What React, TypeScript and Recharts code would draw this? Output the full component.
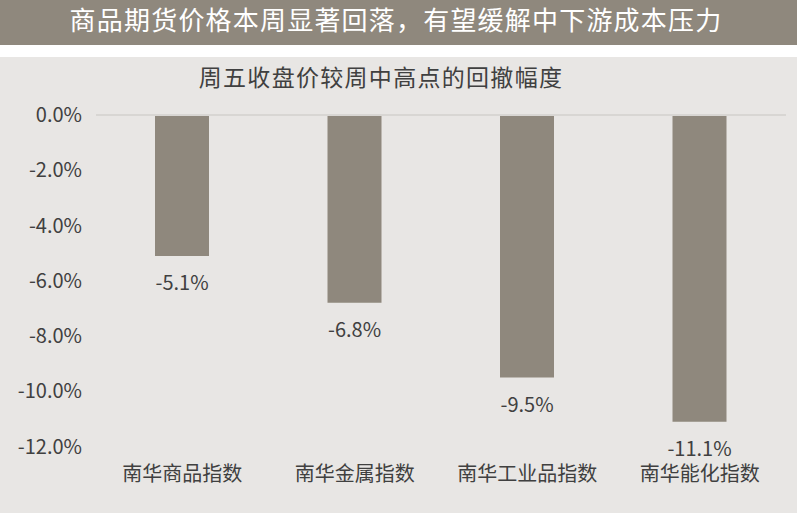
import React from "react";
import { BarChart, Bar, XAxis, YAxis, ReferenceLine, LabelList } from "recharts";

const categories = ["南华商品指数", "南华金属指数", "南华工业品指数", "南华能化指数"];
const drawdowns = [-5.1, -6.8, -9.5, -11.1];
const yTicks = [0, -2, -4, -6, -8, -10, -12];
const bannerTitle = "商品期货价格本周显著回落，有望缓解中下游成本压力";
const chartTitle = "周五收盘价较周中高点的回撤幅度";

const data = categories.map((name, i) => ({ name, value: drawdowns[i] }));

const FONT = '"Noto Sans CJK SC", "Noto Sans", sans-serif';
const TEXT = "#404040";
const TAUPE = "#8f887d";

const renderLabel = (props: any) => {
  const { x, y, width, height, value } = props;
  const bottom = Math.max(Number(y), Number(y) + Number(height));
  return (
    <text
      x={Number(x) + Number(width) / 2}
      y={bottom + 26}
      textAnchor="middle"
      dominantBaseline="central"
      fill={TEXT}
      fontSize={20}
      fontFamily={FONT}
    >
      {`${Number(value).toFixed(1)}%`}
    </text>
  );
};

export default function App() {
  return (
    <div style={{ position: "absolute", left: 0, top: 0, width: 797, height: 513, overflow: "hidden", background: "#ffffff" }}>
      <svg width={797} height={513} style={{ position: "absolute", left: 0, top: 0 }}>
        <rect x={0} y={0} width={797} height={45} fill={TAUPE} />
        <rect x={0} y={57} width={797} height={456} fill="#e8e6e4" />
        <text x={396} y={30} textAnchor="middle" fill="#ffffff" fontSize={26} letterSpacing={1.2} fontFamily={FONT}>
          {bannerTitle}
        </text>
        <text x={381} y={86} textAnchor="middle" fill={TEXT} fontSize={23} letterSpacing={1.3} fontFamily={FONT}>
          {chartTitle}
        </text>
      </svg>
      <div style={{ position: "absolute", left: 0, top: 0 }}>
        <BarChart
          width={797}
          height={513}
          data={data}
          margin={{ top: 115, right: 11, bottom: 36.5, left: 0 }}
        >
          <YAxis
            type="number"
            domain={[-12, 0]}
            ticks={yTicks}
            width={96}
            axisLine={false}
            tickLine={false}
            tickMargin={8}
            tickFormatter={(v: number) => `${v.toFixed(1)}%`}
            tick={{ fill: TEXT, fontSize: 20, fontFamily: FONT }}
            interval={0}
          />
          <XAxis
            dataKey="name"
            axisLine={false}
            tickLine={false}
            tickMargin={14}
            height={30}
            interval={0}
            tick={{ fill: TEXT, fontSize: 20, fontFamily: FONT }}
          />
          <Bar dataKey="value" fill={TAUPE} barSize={54} isAnimationActive={false}>
            <LabelList dataKey="value" content={renderLabel} />
          </Bar>
          <ReferenceLine y={0} stroke="#d8d6d3" strokeWidth={2} />
        </BarChart>
      </div>
    </div>
  );
}
